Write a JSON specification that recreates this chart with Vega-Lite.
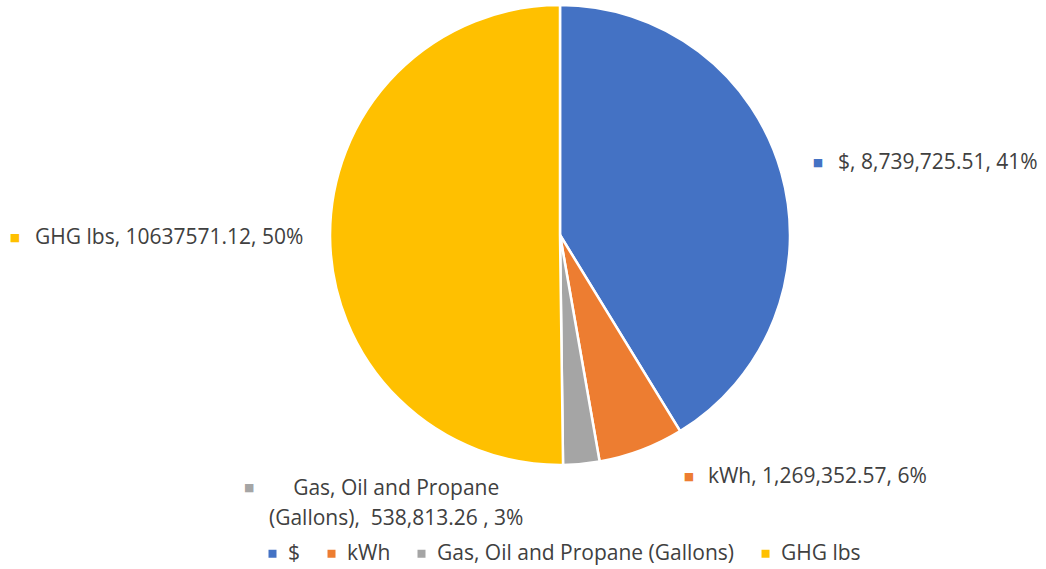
{
  "$schema": "https://vega.github.io/schema/vega-lite/v6.json",
  "width": 972,
  "height": 460,
  "autosize": {"type": "none"},
  "padding": {"left": 74, "top": 5, "right": 0, "bottom": 104},
  "background": "white",
  "config": {"view": {"stroke": null}},
  "data": {
    "values": [
      {"category": "$", "value": 8739725.51, "idx": 1, "label": "$, 8,739,725.51, 41%"},
      {"category": "kWh", "value": 1269352.57, "idx": 2, "label": "kWh, 1,269,352.57, 6%"},
      {"category": "Gas, Oil and Propane (Gallons)", "value": 538813.26, "idx": 3, "label": "Gas, Oil and Propane\n(Gallons),\u00a0 538,813.26 , 3%"},
      {"category": "GHG lbs", "value": 10637571.12, "idx": 4, "label": "GHG lbs, 10637571.12, 50%"}
    ]
  },
  "encoding": {
    "theta": {"field": "value", "type": "quantitative", "stack": true},
    "order": {"field": "idx", "type": "quantitative"}
  },
  "layer": [
    {
      "mark": {"type": "arc", "stroke": "white", "strokeWidth": 2.5},
      "encoding": {
        "color": {
          "field": "category",
          "type": "nominal",
          "scale": {
            "domain": ["$", "kWh", "Gas, Oil and Propane (Gallons)", "GHG lbs"],
            "range": ["#4472C4", "#ED7D31", "#A5A5A5", "#FFC000"]
          },
          "legend": {
            "title": null,
            "orient": "none",
            "legendX": 188,
            "legendY": 538,
            "direction": "horizontal",
            "padding": 0,
            "symbolType": "square",
            "symbolSize": 64,
            "symbolStrokeWidth": 0,
            "labelFont": "Open Sans",
            "labelFontSize": 21,
            "labelColor": "#404040",
            "labelOffset": 5,
            "columnPadding": 20,
            "labelLimit": 400
          }
        }
      }
    },
    {
      "mark": {"type": "text", "radius": 265, "dx": 3, "dy": 0, "font": "DejaVu Sans", "fontSize": 11, "align": "center", "baseline": "middle"},
      "encoding": {
        "color": {"field": "category", "type": "nominal"},
        "text": {"condition": {"test": "datum.category === '$'", "value": "■"}, "value": ""}
      }
    },
    {
      "mark": {"type": "text", "radius": 265, "dx": 23, "dy": 0, "font": "Open Sans", "fontSize": 21, "align": "left", "baseline": "middle", "color": "#404040"},
      "encoding": {
        "text": {"condition": {"test": "datum.category === '$'", "field": "label"}, "value": ""}
      }
    },
    {
      "mark": {"type": "text", "radius": 260, "dx": 37, "dy": -1, "font": "DejaVu Sans", "fontSize": 11, "align": "center", "baseline": "middle"},
      "encoding": {
        "color": {"field": "category", "type": "nominal"},
        "text": {"condition": {"test": "datum.category === 'kWh'", "value": "■"}, "value": ""}
      }
    },
    {
      "mark": {"type": "text", "radius": 260, "dx": 56, "dy": -1, "font": "Open Sans", "fontSize": 21, "align": "left", "baseline": "middle", "color": "#404040"},
      "encoding": {
        "text": {"condition": {"test": "datum.category === 'kWh'", "field": "label"}, "value": ""}
      }
    },
    {
      "mark": {"type": "text", "radius": 260, "dx": -335, "dy": -6, "font": "DejaVu Sans", "fontSize": 11, "align": "center", "baseline": "middle"},
      "encoding": {
        "color": {"field": "category", "type": "nominal"},
        "text": {"condition": {"test": "datum.category === 'Gas, Oil and Propane (Gallons)'", "value": "■"}, "value": ""}
      }
    },
    {
      "mark": {"type": "text", "radius": 260, "dx": -188, "dy": -5, "font": "Open Sans", "fontSize": 21, "align": "center", "baseline": "middle", "lineBreak": "\n", "lineHeight": 30, "color": "#404040"},
      "encoding": {
        "text": {"condition": {"test": "datum.category === 'Gas, Oil and Propane (Gallons)'", "field": "label"}, "value": ""}
      }
    },
    {
      "mark": {"type": "text", "radius": 265, "dx": -280, "dy": 1, "font": "DejaVu Sans", "fontSize": 11, "align": "center", "baseline": "middle"},
      "encoding": {
        "color": {"field": "category", "type": "nominal"},
        "text": {"condition": {"test": "datum.category === 'GHG lbs'", "value": "■"}, "value": ""}
      }
    },
    {
      "mark": {"type": "text", "radius": 265, "dx": -260, "dy": 1, "font": "Open Sans", "fontSize": 21, "align": "left", "baseline": "middle", "color": "#404040"},
      "encoding": {
        "text": {"condition": {"test": "datum.category === 'GHG lbs'", "field": "label"}, "value": ""}
      }
    }
  ]
}
